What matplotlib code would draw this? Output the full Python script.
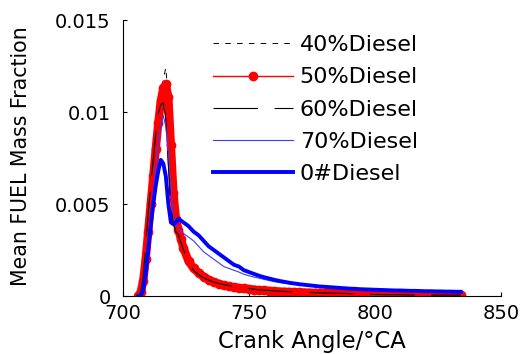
import numpy as np
import matplotlib
matplotlib.use("Agg")
import matplotlib.pyplot as plt

plt.rcParams['font.family'] = ['DejaVu Sans']
plt.rcParams['lines.scale_dashes'] = False

# Crank angle grid (deg CA)
angle = np.concatenate([np.arange(706, 725, 1), np.arange(726, 835, 2)])

diesel40 = [0.0, 0.0001, 0.0006, 0.0017, 0.0032, 0.0047, 0.0062, 0.0078, 0.0093, 0.0106,
            0.0118, 0.0124, 0.0106, 0.0080, 0.0055, 0.0043, 0.0036, 0.0030, 0.0025,
            0.0018, 0.0014, 0.00118, 0.00098, 0.00083, 0.00071, 0.00062, 0.00055, 0.00049,
            0.00045, 0.00042, 0.00039, 0.00036, 0.00033, 0.00031, 0.00029, 0.00027, 0.00025,
            0.00023, 0.00022, 0.00021, 0.00020, 0.00019, 0.00018, 0.00017, 0.00016, 0.00016,
            0.00015, 0.00014, 0.00014, 0.00013, 0.00012, 0.00012, 0.00011, 0.00011, 0.00010,
            0.00010, 0.00009,
            0.00009, 0.00008, 0.00008, 0.00008, 0.00008, 0.00007, 0.00007, 0.00007, 0.00007,
            0.00006, 0.00006, 0.00006, 0.00006, 0.00006, 0.00005, 0.00005, 0.00005]

diesel50 = [0.0, 0.0002, 0.0008, 0.0020, 0.0035, 0.0050, 0.0065, 0.0080, 0.0094, 0.0106,
            0.0113, 0.0115, 0.0108, 0.0082, 0.0056, 0.0042, 0.0036, 0.0031, 0.0026,
            0.0019, 0.0015, 0.00125, 0.00104, 0.00088, 0.00075, 0.00066, 0.00058, 0.00052,
            0.00047, 0.00044, 0.00041, 0.00038, 0.00035, 0.00032, 0.00030, 0.00028, 0.00026,
            0.00024, 0.00023, 0.00022, 0.00021, 0.00020, 0.00019, 0.00018, 0.00017, 0.00017,
            0.00016, 0.00015, 0.00014, 0.00014, 0.00013, 0.00012, 0.00012, 0.00011, 0.00011,
            0.00010, 0.00010,
            0.00009, 0.00009, 0.00009, 0.00008, 0.00008, 0.00008, 0.00008, 0.00007, 0.00007,
            0.00007, 0.00007, 0.00007, 0.00006, 0.00006, 0.00006, 0.00006, 0.00006]

diesel60 = [0.0, 0.0002, 0.0010, 0.0027, 0.0045, 0.0060, 0.0074, 0.0088, 0.0099, 0.0104,
            0.0105, 0.0096, 0.0072, 0.0048, 0.0039, 0.0035, 0.0033, 0.0029, 0.0025,
            0.0018, 0.0014, 0.00115, 0.00098, 0.00087, 0.00076, 0.00068, 0.00062, 0.00057,
            0.00052, 0.00048, 0.00044, 0.00040, 0.00037, 0.00034, 0.00032, 0.00030, 0.00028,
            0.00026, 0.00025, 0.00024, 0.00022, 0.00021, 0.00020, 0.00019, 0.00018, 0.00018,
            0.00017, 0.00016, 0.00015, 0.00015, 0.00014, 0.00013, 0.00012, 0.00011, 0.00010,
            0.00009, 0.00008,
            0.00008, 0.00007, 0.00007, 0.00007, 0.00007, 0.00006, 0.00006, 0.00006, 0.00006,
            0.00006, 0.00005, 0.00005, 0.00005, 0.00005, 0.00005, 0.00005, 0.00005]

diesel70 = [0.0, 0.0001, 0.0004, 0.0014, 0.0028, 0.0042, 0.0056, 0.0070, 0.0083, 0.0093,
            0.0098, 0.0092, 0.0078, 0.0060, 0.0045, 0.0039, 0.0037, 0.0035, 0.0034,
            0.0032, 0.0030, 0.0027, 0.0024, 0.0022, 0.0020, 0.0018, 0.0016, 0.0015,
            0.0014, 0.0013, 0.00118, 0.0011, 0.00103, 0.00097, 0.0009, 0.00084, 0.00078,
            0.00074, 0.0007, 0.00066, 0.00063, 0.0006, 0.00057, 0.00054, 0.00052, 0.0005,
            0.00048, 0.00046, 0.00044, 0.00042, 0.0004, 0.00038, 0.00037, 0.00036, 0.00035,
            0.00034, 0.00033,
            0.00032, 0.00031, 0.0003, 0.0003, 0.00029, 0.00028, 0.00028, 0.00027, 0.00026,
            0.00026, 0.00025, 0.00025, 0.00024, 0.00024, 0.00023, 0.00023, 0.00022]

diesel0 = [0.0, 0.0, 0.0003, 0.0012, 0.0025, 0.0038, 0.0050, 0.0060, 0.0068, 0.0074,
           0.0072, 0.0065, 0.0050, 0.0040, 0.0039, 0.0040, 0.0042, 0.0041, 0.0040,
           0.0038, 0.0035, 0.0033, 0.0030, 0.0027, 0.0025, 0.0023, 0.0021, 0.0019,
           0.0017, 0.0016, 0.0014, 0.0013, 0.0012, 0.0011, 0.00102, 0.00095, 0.00088,
           0.00082, 0.00077, 0.00072, 0.00068, 0.00064, 0.00061, 0.00058, 0.00055, 0.00052,
           0.0005, 0.00048, 0.00046, 0.00044, 0.00042, 0.0004, 0.00039, 0.00037, 0.00036,
           0.00035, 0.00034,
           0.00033, 0.00032, 0.00031, 0.0003, 0.0003, 0.00029, 0.00028, 0.00028, 0.00027,
           0.00026, 0.00026, 0.00025, 0.00025, 0.00024, 0.00024, 0.00023, 0.00023]

labels = ['40%Diesel', '50%Diesel', '60%Diesel', '70%Diesel', '0#Diesel']
xticks = [700, 750, 800, 850]
yticks = [0, 0.005, 0.01, 0.015]
yticklabels = ['0', '0.005', '0.01', '0.015']

fig = plt.figure(figsize=(5.30, 3.54), dpi=100)
ax = fig.add_axes([123/530, 1-296/354, 378/530, 276/354])

ax.plot(angle, diesel40, color='black', lw=0.7, linestyle=(0, (4.0, 4.5)), label=labels[0])
# dense-marker band of the 50% series (same data, drawn as a thick band)
ax.plot(angle, diesel50, color='#ff0000', lw=6.0, solid_capstyle='round',
        solid_joinstyle='round', label='_nolegend_')
ax.plot(angle, diesel50, color='#ff0000', lw=1.0, marker='o', markersize=6.0,
        markerfacecolor='#ff0000', markeredgecolor='#ff0000', label=labels[1])
ax.plot(angle, diesel60, color='black', lw=0.8, linestyle=(0, (32, 12)), label=labels[2])
ax.plot(angle, diesel70, color='#3a3aff', lw=0.8, label=labels[3])
ax.plot(angle, diesel0, color='#0000ff', lw=2.8, label=labels[4])

ax.set_xlim(700, 850)
ax.set_ylim(0, 0.015)
ax.set_xticks(xticks)
ax.set_yticks(yticks)
ax.set_yticklabels(yticklabels)
ax.spines['top'].set_visible(False)
ax.spines['right'].set_visible(False)
for s in ('left', 'bottom'):
    ax.spines[s].set_linewidth(0.8)
ax.tick_params(axis='both', direction='in', length=3, width=0.8, labelsize=14)
ax.tick_params(axis='y', pad=9)
ax.tick_params(axis='x', pad=6)

ax.set_xlabel('Crank Angle/°CA', fontsize=16.3, labelpad=5)
ax.set_ylabel('Mean FUEL Mass Fraction', fontsize=14.8)
ax.yaxis.set_label_coords(-0.243, 0.505)

leg = ax.legend(loc='upper left', bbox_to_anchor=(0.238, 0.945), frameon=False,
                fontsize=16, handlelength=3.6, handletextpad=0.3, numpoints=1,
                labelspacing=0.55, borderpad=0, borderaxespad=0)

fig.savefig('out.png', dpi=100)
